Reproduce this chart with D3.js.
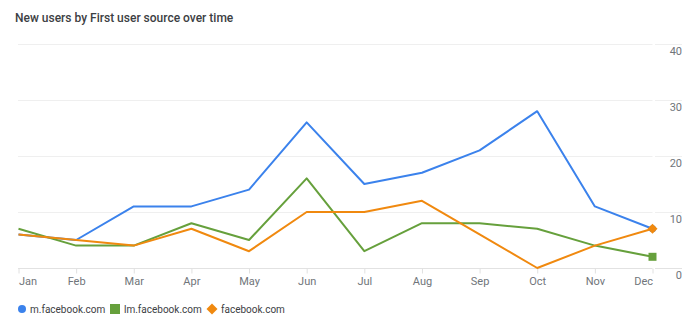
<!DOCTYPE html>
<html>
<head>
<meta charset="utf-8">
<script src="https://cdn.jsdelivr.net/npm/d3@7"></script>
<style>
  body { margin: 0; background: #fff; }
  svg { display: block; font-family: Roboto, "Noto Sans", sans-serif; }
</style>
</head>
<body>
<div id="chart"></div>
<script>
// data
var months = ['Jan', 'Feb', 'Mar', 'Apr', 'May', 'Jun', 'Jul', 'Aug', 'Sep', 'Oct', 'Nov', 'Dec'];
var mFacebook = [6, 5, 11, 11, 14, 26, 15, 17, 21, 28, 11, 7];
var lmFacebook = [7, 4, 4, 8, 5, 16, 3, 8, 8, 7, 4, 2];
var facebook = [6, 5, 4, 7, 3, 10, 10, 12, 6, 0, 4, 7];
var yTicks = [0, 10, 20, 30, 40];

var series = [
  { name: 'm.facebook.com', values: mFacebook, color: '#3b82ec', marker: 'circle' },
  { name: 'lm.facebook.com', values: lmFacebook, color: '#66a03c', marker: 'square' },
  { name: 'facebook.com', values: facebook, color: '#f0890f', marker: 'diamond' }
];

var width = 692, height = 316;
var plot = { left: 18.5, right: 652.5, top: 44, bottom: 268 };

var svg = d3.select('#chart')
  .append('svg')
  .attr('width', width)
  .attr('height', height);

var x = d3.scalePoint().domain(months).range([plot.left, plot.right]);
var y = d3.scaleLinear().domain([0, 40]).range([plot.bottom, plot.top]);

// title
svg.append('text')
  .attr('x', 15)
  .attr('y', 22)
  .attr('fill', '#3c4043')
  .style('font-size', '12px')
  .style('font-weight', 500)
  .text('New users by First user source over time');

// gridlines (two pieces: plot area and label gutter)
var grid = svg.append('g');
yTicks.forEach(function(t) {
  grid.append('line')
    .attr('x1', plot.left - 0.5).attr('x2', plot.right)
    .attr('y1', Math.round(y(t)) + 0.5).attr('y2', Math.round(y(t)) + 0.5)
    .attr('stroke', t === 0 ? '#e2e2e2' : '#efefef');
  grid.append('line')
    .attr('x1', plot.right + 2.5).attr('x2', 682)
    .attr('y1', Math.round(y(t)) + 0.5).attr('y2', Math.round(y(t)) + 0.5)
    .attr('stroke', t === 0 ? '#e2e2e2' : '#efefef');
});

// y axis on the right
var yAxis = svg.append('g')
  .attr('transform', 'translate(682,0)')
  .call(d3.axisLeft(y).tickValues(yTicks).tickSize(0).tickPadding(0));
yAxis.select('.domain').remove();
yAxis.selectAll('text')
  .attr('dy', '0.95em')
  .attr('fill', '#70757a')
  .style('font-size', '11px')
  .style('font-family', 'Roboto, sans-serif');

// x axis
var xAxis = svg.append('g')
  .attr('transform', 'translate(0,' + (plot.bottom + 0.5) + ')')
  .call(d3.axisBottom(x).tickSize(5).tickPadding(4));
xAxis.select('.domain').remove();
xAxis.selectAll('.tick line').attr('stroke', '#e0e0e0');
xAxis.selectAll('text')
  .attr('fill', '#70757a')
  .style('font-size', '11px')
  .style('font-family', 'Roboto, sans-serif')
  .attr('text-anchor', function(d, i) {
    if (i === 0) return 'start';
    if (i === months.length - 1) return 'end';
    return 'middle';
  });

// lines
var line = d3.line()
  .x(function(d, i) { return x(months[i]); })
  .y(function(d) { return y(d); });

svg.append('g').selectAll('path')
  .data(series)
  .join('path')
  .attr('d', function(s) { return line(s.values); })
  .attr('fill', 'none')
  .attr('stroke', function(s) { return s.color; })
  .attr('stroke-width', 2)
  .attr('stroke-linejoin', 'round');

// marker shapes, r = half width
function marker(type, r) {
  if (type === 'circle') return d3.symbol().type(d3.symbolCircle).size(Math.PI * r * r)();
  if (type === 'square') return 'M' + (-r) + ',' + (-r) + 'H' + r + 'V' + r + 'H' + (-r) + 'Z';
  return 'M0,' + (-r) + 'L' + r + ',0L0,' + r + 'L' + (-r) + ',0Z';
}

// end markers
var last = months.length - 1;
var endSize = { circle: 3.5, square: 4, diamond: 5 };
svg.append('g').selectAll('path')
  .data(series)
  .join('path')
  .attr('transform', function(s) {
    return 'translate(' + x(months[last]) + ',' + y(s.values[last]) + ')';
  })
  .attr('d', function(s) { return marker(s.marker, endSize[s.marker]); })
  .attr('fill', function(s) { return s.color; });

// legend
var legendX = [22, 115, 212];
var legendSize = { circle: 4, square: 5, diamond: 5.5 };
var legend = svg.append('g').selectAll('g')
  .data(series)
  .join('g')
  .attr('transform', function(s, i) { return 'translate(' + legendX[i] + ',309)'; });
legend.append('path')
  .attr('d', function(s) { return marker(s.marker, legendSize[s.marker]); })
  .attr('fill', function(s) { return s.color; });
legend.append('text')
  .attr('x', function(s) { return s.marker === 'circle' ? 8 : 9; })
  .attr('dy', '0.35em')
  .attr('fill', '#3c4043')
  .style('font-size', '10px')
  .text(function(s) { return s.name; });
</script>
</body>
</html>
